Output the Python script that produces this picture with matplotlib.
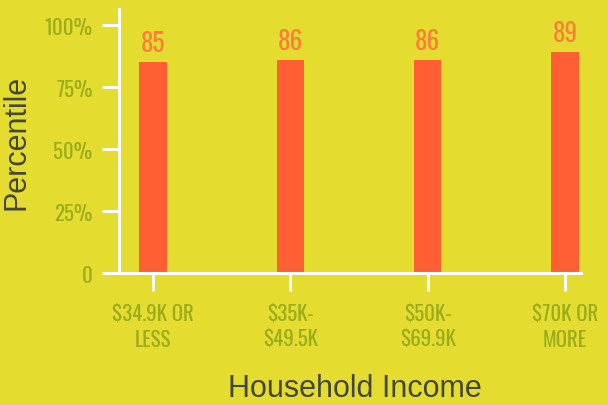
import matplotlib.pyplot as plt

# data
categories = ["$34.9K OR\nLESS", "$35K-\n$49.5K", "$50K-\n$69.9K", "$70K OR\nMORE"]
percentile = [85, 86, 86, 89]
yticks = [0, 25, 50, 75, 100]
ytick_labels = ["0", "25%", "50%", "75%", "100%"]

bg = "#e4dc2e"
bar_color = "#ff5f33"
label_color = "#ff7b3a"
tick_text = "#9aab1c"
axis_text = "#45463a"
cond = ["Oswald", "DejaVu Sans"]
plain = ["Liberation Sans", "DejaVu Sans"]

fig = plt.figure(figsize=(6.08, 4.06), dpi=100, facecolor=bg)
ax = fig.add_axes([0.1957, 0.325, 0.7599, 0.6504])
ax.set_facecolor(bg)

x = range(len(categories))
bars = ax.bar(x, percentile, width=0.2, color=bar_color, zorder=2)
for b, v in zip(bars, percentile):
    ax.text(b.get_x() + b.get_width() / 2, v + 2.5, str(v), ha="center", va="bottom",
            color=label_color, fontsize=18, family=cond)

ax.set_xlim(-0.248, 3.117)
ax.set_ylim(0, 106.5)
ax.set_xticks(list(x))
ax.set_xticklabels(categories, family=cond, fontsize=15, color=tick_text, linespacing=1.3)
ax.set_yticks(yticks)
ax.set_yticklabels(ytick_labels, family=cond, fontsize=15, color=tick_text)

for side in ["top", "right"]:
    ax.spines[side].set_visible(False)
for side in ["left", "bottom"]:
    ax.spines[side].set_color("white")
    ax.spines[side].set_linewidth(2.2)
ax.tick_params(axis="y", colors="white", length=12, width=2.2, pad=7, labelcolor=tick_text)
ax.tick_params(axis="x", colors="white", length=13, width=2.2, pad=9, labelcolor=tick_text)

ax.set_ylabel("Percentile", fontsize=22, color=axis_text, family=plain)
ax.yaxis.set_label_coords(-0.19, 0.5)
ax.set_xlabel("Household Income", fontsize=22, color=axis_text, family=plain)
ax.xaxis.set_label_coords(0.51, -0.38)

fig.savefig("out.png", dpi=100, facecolor=bg)
